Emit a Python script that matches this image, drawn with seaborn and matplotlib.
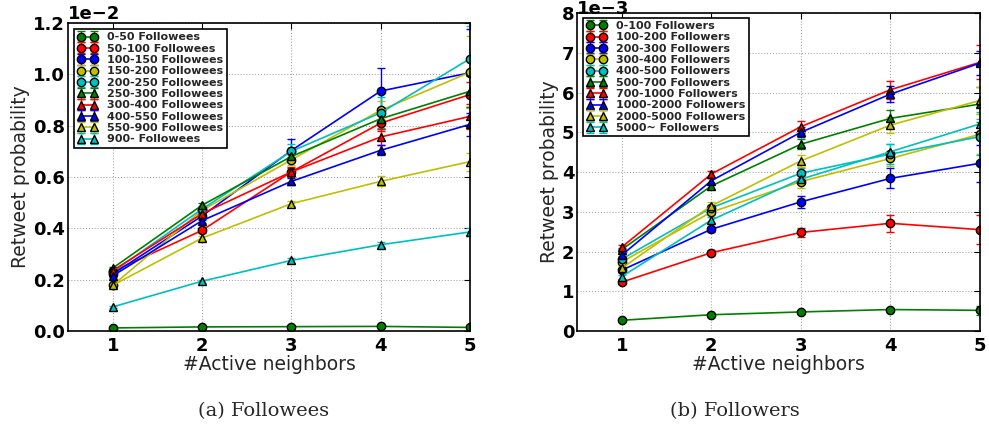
import numpy as np
import pandas as pd
import matplotlib
matplotlib.use("Agg")
import matplotlib.pyplot as plt
from matplotlib.lines import Line2D
import seaborn as sns

# ---------------- data ----------------
active_neighbors = [1, 2, 3, 4, 5]

followee_groups = ["0-50 Followees", "50-100 Followees", "100-150 Followees",
                   "150-200 Followees", "200-250 Followees", "250-300 Followees",
                   "300-400 Followees", "400-550 Followees", "550-900 Followees",
                   "900- Followees"]
# retweet probability (x 1e-2)
followee_prob = [
    [0.012, 0.016, 0.017, 0.018, 0.014],
    [0.232, 0.392, 0.620, 0.810, 0.921],
    [0.222, 0.448, 0.703, 0.935, 1.006],
    [0.178, 0.470, 0.667, 0.860, 1.008],
    [0.230, 0.475, 0.700, 0.850, 1.061],
    [0.245, 0.490, 0.680, 0.827, 0.934],
    [0.235, 0.457, 0.620, 0.756, 0.836],
    [0.215, 0.430, 0.583, 0.704, 0.805],
    [0.178, 0.362, 0.496, 0.583, 0.660],
    [0.094, 0.194, 0.275, 0.336, 0.386],
]
followee_err = [
    [0.001, 0.001, 0.001, 0.002, 0.003],
    [0.005, 0.010, 0.020, 0.030, 0.050],
    [0.005, 0.015, 0.045, 0.090, 0.170],
    [0.005, 0.010, 0.020, 0.035, 0.140],
    [0.005, 0.010, 0.030, 0.060, 0.128],
    [0.005, 0.010, 0.020, 0.040, 0.060],
    [0.005, 0.010, 0.015, 0.030, 0.050],
    [0.005, 0.010, 0.015, 0.020, 0.045],
    [0.005, 0.010, 0.010, 0.020, 0.035],
    [0.005, 0.005, 0.010, 0.010, 0.015],
]

follower_groups = ["0-100 Followers", "100-200 Followers", "200-300 Followers",
                   "300-400 Followers", "400-500 Followers", "500-700 Followers",
                   "700-1000 Followers", "1000-2000 Followers", "2000-5000 Followers",
                   "5000~ Followers"]
# retweet probability (x 1e-3)
follower_prob = [
    [0.27, 0.41, 0.48, 0.54, 0.52],
    [1.23, 1.97, 2.48, 2.71, 2.55],
    [1.53, 2.56, 3.25, 3.84, 4.22],
    [1.74, 2.99, 3.76, 4.34, 4.95],
    [1.81, 3.10, 3.97, 4.45, 4.89],
    [2.05, 3.65, 4.70, 5.35, 5.71],
    [2.11, 3.95, 5.14, 6.07, 6.76],
    [1.91, 3.78, 5.00, 5.96, 6.74],
    [1.58, 3.15, 4.28, 5.18, 5.80],
    [1.37, 2.79, 3.82, 4.51, 5.21],
]
follower_err = [
    [0.02, 0.02, 0.03, 0.04, 0.12],
    [0.05, 0.06, 0.12, 0.22, 0.37],
    [0.05, 0.06, 0.15, 0.25, 0.46],
    [0.05, 0.08, 0.15, 0.20, 0.50],
    [0.05, 0.08, 0.12, 0.25, 0.45],
    [0.05, 0.08, 0.12, 0.22, 0.44],
    [0.05, 0.08, 0.15, 0.23, 0.43],
    [0.05, 0.08, 0.12, 0.20, 0.31],
    [0.05, 0.10, 0.15, 0.20, 0.35],
    [0.05, 0.08, 0.10, 0.20, 0.31],
]

series_colors = ["#008000", "#ff0000", "#0000ff", "#bfbf00", "#00bfbf"] * 2
series_markers = ["o"] * 5 + ["^"] * 5

# ---------------- style ----------------
sns.set_style("white")
plt.rcParams.update({
    "font.family": ["DejaVu Sans"],
    "axes.edgecolor": "black",
    "axes.linewidth": 1.2,
    "xtick.direction": "in",
    "ytick.direction": "in",
    "xtick.top": True,
    "ytick.right": True,
    "xtick.major.size": 4,
    "ytick.major.size": 4,
    "xtick.color": "black",
    "ytick.color": "black",
    "axes.unicode_minus": True,
})

fig = plt.figure(figsize=(9.89, 4.28), dpi=100)
ax1 = fig.add_axes([0.0688, 0.2266, 0.4064, 0.7197])
ax2 = fig.add_axes([0.5834, 0.2266, 0.4075, 0.7430])


def draw(ax, groups, prob, err, scale, yticks, legend_anchor, offpad):
    rows = []
    for g, vals in zip(groups, prob):
        for xv, yv in zip(active_neighbors, vals):
            rows.append({"x": xv, "y": yv * scale, "group": g})
    df = pd.DataFrame(rows)
    handles = []
    for i, g in enumerate(groups):
        eb = ax.errorbar(active_neighbors, np.array(prob[i]) * scale,
                         yerr=np.array(err[i]) * scale, fmt="none",
                         ecolor=series_colors[i], elinewidth=1.0, capsize=3,
                         capthick=1.0, zorder=1.5)
        sub = df[df["group"] == g]
        sns.lineplot(data=sub, x="x", y="y", ax=ax, color=series_colors[i],
                     marker=series_markers[i], markersize=6, linewidth=1.2,
                     markeredgecolor="black", markeredgewidth=1.0,
                     errorbar=None, sort=False, legend=False, zorder=2)
        proxy = Line2D([], [], color=series_colors[i], marker=series_markers[i],
                       markersize=6, linewidth=1.2, markeredgecolor="black",
                       markeredgewidth=1.0)
        handles.append((eb, proxy))
    ax.set_xlim(0.5, 5)
    ax.set_ylim(yticks[0] * scale, yticks[-1] * scale)
    ax.set_xticks(active_neighbors)
    ax.set_yticks(np.array(yticks) * scale)
    ax.ticklabel_format(style="sci", axis="y", scilimits=(0, 0), useMathText=False)
    ax.grid(True, linestyle=(0, (1, 2)), color="0.6", linewidth=0.7)
    ax.set_xlabel("#Active neighbors", fontsize=13.5, labelpad=0)
    ax.set_ylabel("Retweet probability", fontsize=13.5, labelpad=2)
    for lab in ax.get_xticklabels() + ax.get_yticklabels():
        lab.set_fontweight("bold")
        lab.set_fontsize(13)
    ax.tick_params(axis="y", pad=2)
    ax.tick_params(axis="x", pad=4)
    ax.yaxis.OFFSETTEXTPAD = offpad
    off = ax.yaxis.get_offset_text()
    off.set_fontweight("bold")
    off.set_fontsize(13)
    leg = ax.legend(handles, groups, loc="upper left", bbox_to_anchor=legend_anchor,
                    fontsize=8, prop={"weight": "bold", "size": 8}, numpoints=2,
                    handlelength=1.8, handletextpad=0.9, labelspacing=0.12,
                    borderpad=0.3, borderaxespad=0, fancybox=False,
                    framealpha=1, edgecolor="black")
    leg.get_frame().set_linewidth(1.2)
    ax.set_axisbelow(True)


draw(ax1, followee_groups, followee_prob, followee_err, 1e-2,
     [0.0, 0.2, 0.4, 0.6, 0.8, 1.0, 1.2], (0.015, 0.98), 3)
draw(ax2, follower_groups, follower_prob, follower_err, 1e-3,
     [0, 1, 2, 3, 4, 5, 6, 7, 8], (0.015, 0.985), -1)

fig.text(264 / 989, 1 - 411 / 428, "(a) Followees", ha="center", va="center",
         fontsize=14, family="DejaVu Serif")
fig.text(735 / 989, 1 - 411 / 428, "(b) Followers", ha="center", va="center",
         fontsize=14, family="DejaVu Serif")

fig.savefig("out.png", dpi=100)
